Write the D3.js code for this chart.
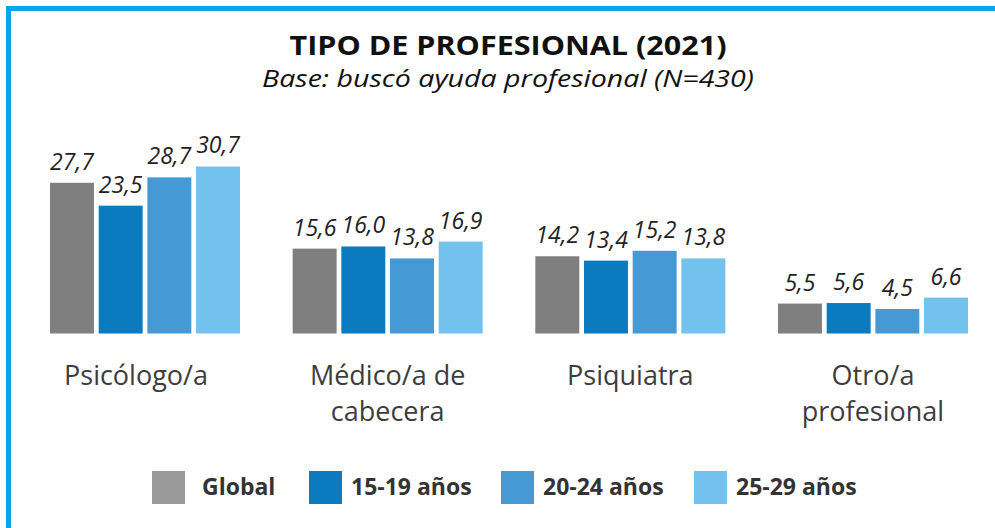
<!DOCTYPE html>
<html>
<head>
<meta charset="utf-8">
<script src="https://cdn.jsdelivr.net/npm/d3@7"></script>
<style>
  body { margin: 0; background: #fff; }
  svg { display: block; font-family: 'Open Sans', sans-serif; }
  .title { font-weight: 700; font-size: 26px; fill: #111; }
  .subtitle { font-style: italic; font-size: 23px; fill: #111; }
  .value { font-style: italic; font-size: 23px; fill: #222; }
  .cat { font-size: 27px; fill: #3d3d3d; }
  .legendText { font-weight: 700; font-size: 23px; fill: #333; }
</style>
</head>
<body>
<svg id="chart" width="995" height="528"></svg>
<script>
const categories = [['Psicólogo/a'], ['Médico/a de', 'cabecera'], ['Psiquiatra'], ['Otro/a', 'profesional']]
const series = ['Global', '15-19 años', '20-24 años', '25-29 años']
const values = [
  [27.7, 23.5, 28.7, 30.7],
  [15.6, 16.0, 13.8, 16.9],
  [14.2, 13.4, 15.2, 13.8],
  [5.5, 5.6, 4.5, 6.6]
]
const barColors = ['#7f7f7f', '#0c7abf', '#4599d5', '#72c2ed']
const legendColors = ['#999999', '#0c7abf', '#4599d5', '#72c2ed']

const svg = d3.select('#chart')

// frame: top and left blue lines
svg.append('rect').attr('x', 6).attr('y', 6).attr('width', 989).attr('height', 5).attr('fill', '#0aa5e6')
svg.append('rect').attr('x', 6).attr('y', 6).attr('width', 5).attr('height', 522).attr('fill', '#0aa5e6')

svg.append('text').attr('class', 'title')
  .attr('x', 508).attr('y', 55).attr('text-anchor', 'middle')
  .attr('textLength', 437).attr('lengthAdjust', 'spacingAndGlyphs')
  .text('TIPO DE PROFESIONAL (2021)')

svg.append('text').attr('class', 'subtitle')
  .attr('x', 508).attr('y', 87).attr('text-anchor', 'middle')
  .attr('textLength', 492).attr('lengthAdjust', 'spacingAndGlyphs')
  .text('Base: buscó ayuda profesional (N=430)')

const catKeys = categories.map(c => c.join(' '))

const x0 = d3.scaleBand().domain(catKeys).range([50, 968]).paddingInner(0.217)
const x1 = d3.scaleBand().domain(series).range([0, x0.bandwidth()]).paddingInner(0.097)
const y = d3.scaleLinear().domain([0, 35]).range([333.5, 333.5 - 5.44 * 35])

const groups = svg.append('g')
  .selectAll('g')
  .data(values)
  .enter()
  .append('g')
  .attr('transform', (d, i) => `translate(${x0(catKeys[i])},0)`)

groups.selectAll('rect')
  .data(d => d.map((v, j) => ({ v, s: series[j], j })))
  .enter()
  .append('rect')
  .attr('x', d => x1(d.s))
  .attr('y', d => y(d.v))
  .attr('width', x1.bandwidth())
  .attr('height', d => y(0) - y(d.v))
  .attr('fill', d => barColors[d.j])

groups.selectAll('text.value')
  .data(d => d.map((v, j) => ({ v, s: series[j] })))
  .enter()
  .append('text')
  .attr('class', 'value')
  .attr('x', d => x1(d.s) + x1.bandwidth() / 2)
  .attr('y', d => y(d.v) - 13)
  .attr('text-anchor', 'middle')
  .text(d => d.v.toFixed(1).replace('.', ','))

// category labels, one text per line
const catLabels = svg.append('g')
categories.forEach((lines, i) => {
  const cx = x0(catKeys[i]) + x0.bandwidth() / 2 - (i === 0 ? 9 : 0)
  lines.forEach((line, k) => {
    catLabels.append('text')
      .attr('class', 'cat')
      .attr('text-anchor', 'middle')
      .attr('x', cx)
      .attr('y', 385 + k * 36)
      .text(line)
  })
})

// legend
const legendX = [152, 309, 501, 694]
const legend = svg.append('g')
  .selectAll('g')
  .data(series)
  .enter()
  .append('g')
  .attr('transform', (d, i) => `translate(${legendX[i]},471)`)

legend.append('rect')
  .attr('width', 33).attr('height', 33)
  .attr('fill', (d, i) => legendColors[i])

legend.append('text')
  .attr('class', 'legendText')
  .attr('x', (d, i) => i === 0 ? 50 : 42)
  .attr('y', 24)
  .text(d => d)
</script>
</body>
</html>
